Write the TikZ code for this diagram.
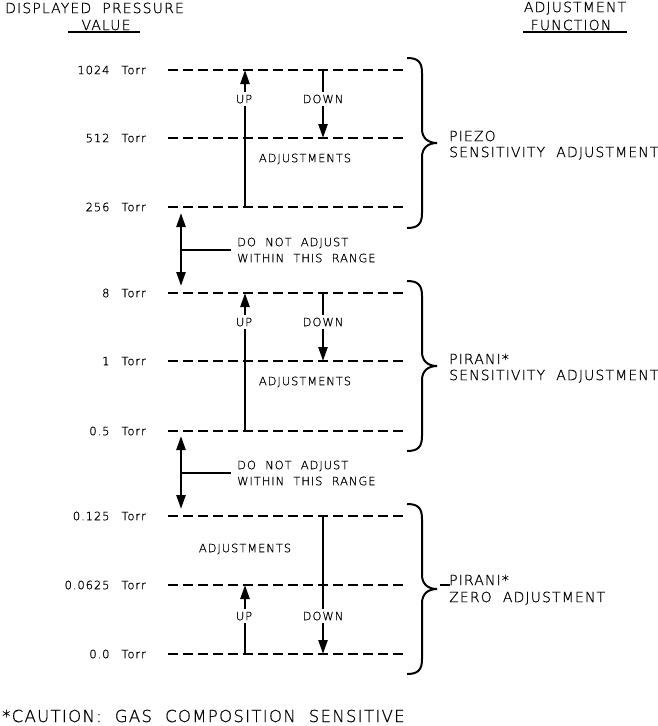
\documentclass[tikz,border=0pt]{standalone}
\usepackage{fontspec}
\newfontfamily\cad[LetterSpace=8,WordSpace=2,FakeBold=0.8]{DejaVu Sans ExtraLight}
\usetikzlibrary{arrows.meta}
\tikzset{
  dline/.style={line width=2pt, dash pattern=on 10pt off 5pt},
  arr/.style={line width=2.4pt, -{Triangle[length=14pt,width=9pt]}},
  darr/.style={line width=2.4pt, {Triangle[length=14pt,width=9pt]}-{Triangle[length=14pt,width=9pt]}},
  bracestyle/.style={line width=2pt},
  lbl/.style={font=\cad\fontsize{11.5}{12}\selectfont, inner sep=0pt, text height=8.4pt, text depth=0pt},
  onl/.style={lbl, fill=white, inner xsep=1pt, inner ysep=3pt},
  tlbl/.style={font=\cad\fontsize{11.5}{12}\selectfont, inner sep=0pt, text height=8.4pt, text depth=0pt, anchor=east},
  grp/.style={font=\cad\fontsize{14}{16}\selectfont, inner sep=0pt, text height=10.2pt, text depth=0pt, anchor=west},
  head/.style={font=\cad\fontsize{14}{15}\selectfont, inner sep=0pt, text height=10.2pt, text depth=0pt},
  caut/.style={font=\cad\fontsize{16.5}{18}\selectfont, inner sep=0pt, text height=12pt, text depth=0pt, anchor=west},
  uline/.style={line width=1.4pt},
}
\newcommand\drawcadbrace[3]{%
  \draw[bracestyle] (407,#1) .. controls (418,#1) and (422,#1+4) .. (422,#1+15)
    -- (422,#2-14) .. controls (422,#2-5) and (428,#2) .. (437,#2)
    .. controls (428,#2) and (422,#2+5) .. (422,#2+14)
    -- (422,#3-15) .. controls (422,#3-4) and (418,#3) .. (407,#3);}
\begin{document}
\begin{tikzpicture}[x=1pt,y=-1pt]
\useasboundingbox (0,0) rectangle (658,726);
% headings
\node[head,anchor=west] (h1) at (5,8) {DISPLAYED PRESSURE};
\node[head] (h2) at (106,25) {VALUE};
\coordinate (u1a) at (68,32); \coordinate (u1b) at (140,32);
\draw[uline] (u1a) -- (u1b);
\node[head] (h3) at (575,7) {ADJUSTMENT};
\node[head] (h4) at (571,25) {FUNCTION};
\coordinate (u2a) at (523,32); \coordinate (u2b) at (627,32);
\draw[uline] (u2a) -- (u2b);
% pressure lines
\foreach \n/\y/\v in {a/70/1024, b/138/512, c/207/256, d/293/8, e/361/1, f/431/0.5, g/516/0.125, h/585/0.0625, i/654/0.0}{
  \coordinate (\n0) at (168,\y);
  \coordinate (\n1) at (404,\y);
  \draw[dline] (\n0) -- (\n1);
  \node[tlbl] (t\n) at (146,\y) {\v\hspace{12pt}Torr};
}
% group 1
\coordinate (up1s) at (245,207); \coordinate (up1e) at (245,70);
\draw[arr] (up1s) -- (up1e);
\coordinate (dn1s) at (323,70); \coordinate (dn1e) at (323,138);
\draw[arr] (dn1s) -- (dn1e);
\node[onl] (lup1) at (244,99) {UP};
\node[onl] (ldn1) at (323,99) {DOWN};
\node[lbl] (adj1) at (305,158) {ADJUSTMENTS};
% group 2
\coordinate (up2s) at (245,431); \coordinate (up2e) at (245,293);
\draw[arr] (up2s) -- (up2e);
\coordinate (dn2s) at (323,293); \coordinate (dn2e) at (323,361);
\draw[arr] (dn2s) -- (dn2e);
\node[onl] (lup2) at (244,322) {UP};
\node[onl] (ldn2) at (323,322) {DOWN};
\node[lbl] (adj2) at (305,381) {ADJUSTMENTS};
% group 3
\coordinate (up3s) at (245,654); \coordinate (up3e) at (245,585);
\draw[arr] (up3s) -- (up3e);
\coordinate (dn3s) at (323,516); \coordinate (dn3e) at (323,654);
\draw[arr] (dn3s) -- (dn3e);
\node[onl] (lup3) at (244,616) {UP};
\node[onl] (ldn3) at (323,616) {DOWN};
\node[lbl] (adj3) at (245,548) {ADJUSTMENTS};
% do not adjust ranges
\coordinate (na1) at (181,213); \coordinate (nb1) at (181,286);
\draw[darr] (na1) -- (nb1);
\coordinate (nm1) at (181,250); \coordinate (ne1) at (231,250);
\draw[line width=2.2pt] (nm1) -- (ne1);
\node[lbl,anchor=west] (dna1) at (237,242) {DO NOT ADJUST};
\node[lbl,anchor=west] (dnb1) at (237,258) {WITHIN THIS RANGE};
\coordinate (na2) at (181,436); \coordinate (nb2) at (181,509);
\draw[darr] (na2) -- (nb2);
\coordinate (nm2) at (181,473); \coordinate (ne2) at (231,473);
\draw[line width=2.2pt] (nm2) -- (ne2);
\node[lbl,anchor=west] (dna2) at (237,465) {DO NOT ADJUST};
\node[lbl,anchor=west] (dnb2) at (237,481) {WITHIN THIS RANGE};
% braces
\drawcadbrace{58}{143}{228}
\drawcadbrace{281}{366}{451}
\drawcadbrace{504}{589}{674}
\node[grp] (g1a) at (449,136) {PIEZO};
\node[grp] (g1b) at (449,152) {SENSITIVITY ADJUSTMENT};
\node[grp] (g2a) at (449,359) {PIRANI*};
\node[grp] (g2b) at (449,375) {SENSITIVITY ADJUSTMENT};
\node[grp] (g3a) at (449,580) {PIRANI*};
\node[grp] (g3b) at (449,597) {ZERO ADJUSTMENT};
\coordinate (sl1) at (440,585); \coordinate (sl2) at (450,585);
\draw[line width=1.2pt] (sl1) -- (sl2);
% caution
\node[caut] (cau) at (2,716) {*CAUTION: GAS COMPOSITION SENSITIVE};
\end{tikzpicture}
\end{document}
